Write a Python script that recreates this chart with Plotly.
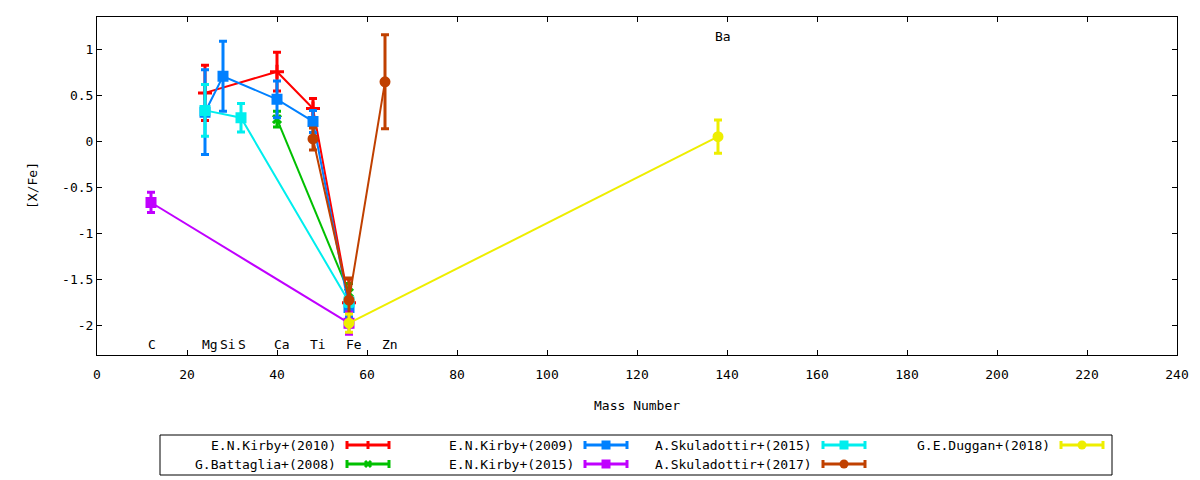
import plotly.graph_objects as go

# mass numbers of the elements
elements = ["C", "Mg", "Si", "S", "Ca", "Ti", "Fe", "Zn", "Ba"]
masses = [12, 24, 28, 32, 40, 48, 56, 64, 138]

# [X/Fe] per study
kirby2010_x = [24, 40, 48, 56]
kirby2010_y = [0.53, 0.76, 0.36, -1.75]
kirby2010_err = [0.30, 0.21, 0.11, 0.26]

battaglia2008_x = [40, 56]
battaglia2008_y = [0.245, -1.64]
battaglia2008_err = [0.085, 0.10]

kirby2009_x = [24, 28, 40, 48, 56]
kirby2009_y = [0.32, 0.71, 0.46, 0.22, -1.80]
kirby2009_err = [0.46, 0.38, 0.20, 0.12, 0.10]

kirby2015_x = [12, 56]
kirby2015_y = [-0.66, -1.97]
kirby2015_err = [0.11, 0.12]

skul2015_x = [24, 32, 56]
skul2015_y = [0.34, 0.26, -1.74]
skul2015_err = [0.28, 0.155, 0.05]

skul2017_x = [48, 56, 64]
skul2017_y = [0.03, -1.72, 0.65]
skul2017_err = [0.12, 0.24, 0.51]

duggan2018_x = [56, 138]
duggan2018_y = [-1.97, 0.055]
duggan2018_err = [0.10, 0.18]

series = [
    ("E.N.Kirby+(2010)", kirby2010_x, kirby2010_y, kirby2010_err, "#ff0000", "plus"),
    ("G.Battaglia+(2008)", battaglia2008_x, battaglia2008_y, battaglia2008_err, "#00c000", "x"),
    ("E.N.Kirby+(2009)", kirby2009_x, kirby2009_y, kirby2009_err, "#0080ff", "square"),
    ("E.N.Kirby+(2015)", kirby2015_x, kirby2015_y, kirby2015_err, "#c000ff", "square"),
    ("A.Skuladottir+(2015)", skul2015_x, skul2015_y, skul2015_err, "#00eeee", "square"),
    ("A.Skuladottir+(2017)", skul2017_x, skul2017_y, skul2017_err, "#c04000", "circle"),
    ("G.E.Duggan+(2018)", duggan2018_x, duggan2018_y, duggan2018_err, "#eeee00", "circle"),
]

FONT = "DejaVu Sans Mono"
L, R, T, B = 97, 1177, 17, 355


def px(x):
    return (x - L) / (R - L)


def py(y):
    return (B - y) / (B - T)


symbols = {
    "plus": dict(symbol="cross-thin", size=10),
    "x": dict(symbol="x-thin", size=8),
    "square": dict(symbol="square", size=8),
    "circle": dict(symbol="circle", size=8),
}

fig = go.Figure()
for name, xs, ys, errs, color, mk in series:
    m = symbols[mk]
    fig.add_trace(go.Scatter(
        x=xs, y=ys, name=name, mode="lines+markers",
        line=dict(color=color, width=2),
        marker=dict(symbol=m["symbol"], size=m["size"], color=color,
                    line=dict(color=color, width=3)),
        error_y=dict(type="data", array=errs, visible=True,
                     color=color, thickness=3, width=4),
        showlegend=False,
    ))

annotations = []
# element labels
for el, m in zip(elements, masses):
    annotations.append(dict(
        x=m - 1.1, y=1.14 if el == "Ba" else -2.20, xref="x", yref="y",
        text=el, showarrow=False, xanchor="left", yanchor="middle",
        font=dict(family=FONT, size=13, color="black"),
    ))

annotations.append(dict(x=px(637), y=py(405), xref="paper", yref="paper",
                        text="Mass Number", showarrow=False, yanchor="middle",
                        font=dict(family=FONT, size=13, color="black")))
annotations.append(dict(x=px(32), y=py(186), xref="paper", yref="paper",
                        text="[X/Fe]", showarrow=False, textangle=-90,
                        xanchor="center", yanchor="middle",
                        font=dict(family=FONT, size=13, color="black")))

# gnuplot-style key: text right-aligned, sample to its right
shapes = [dict(type="rect", xref="paper", yref="paper",
               x0=px(160), x1=px(1112), y0=py(435), y1=py(475),
               line=dict(color="black", width=1))]
row_y = [445, 464]
for i, (name, xs, ys, errs, color, mk) in enumerate(series):
    col, row = divmod(i, 2)
    yc = row_y[row]
    x_text = 338 + 238 * col
    s0, s1 = 347 + 238 * col, 389 + 238 * col
    annotations.append(dict(x=px(x_text), y=py(yc), xref="paper", yref="paper",
                            text=name, showarrow=False, xanchor="right",
                            yanchor="middle",
                            font=dict(family=FONT, size=13, color="black")))
    ln = dict(color=color, width=3)
    shapes.append(dict(type="line", xref="paper", yref="paper",
                       x0=px(s0), x1=px(s1), y0=py(yc), y1=py(yc), line=ln))
    for sx in (s0, s1):
        shapes.append(dict(type="line", xref="paper", yref="paper",
                           x0=px(sx), x1=px(sx), y0=py(yc - 4), y1=py(yc + 4), line=ln))
    xm = (s0 + s1) / 2
    if mk == "plus":
        shapes.append(dict(type="line", xref="paper", yref="paper",
                           x0=px(xm), x1=px(xm), y0=py(yc - 4), y1=py(yc + 4), line=ln))
    elif mk == "x":
        for d in (-1, 1):
            shapes.append(dict(type="line", xref="paper", yref="paper",
                               x0=px(xm - 3), x1=px(xm + 3),
                               y0=py(yc - 3 * d), y1=py(yc + 3 * d), line=ln))
    else:
        shapes.append(dict(type="rect" if mk == "square" else "circle",
                           xref="paper", yref="paper",
                           x0=px(xm - 4.5), x1=px(xm + 4.5),
                           y0=py(yc - 4.5), y1=py(yc + 4.5),
                           fillcolor=color, line=dict(color=color, width=0)))

axis_style = dict(showline=True, linecolor="black", linewidth=1, mirror="ticks",
                  ticks="inside", ticklen=5, tickcolor="black", showgrid=False,
                  zeroline=False, tickfont=dict(family=FONT, size=13, color="black"))

yticks = [1, 0.5, 0, -0.5, -1, -1.5, -2]
yticktext = ["1", "0.5", "0", "-0.5", "-1", "-1.5", "-2"]
xticks = list(range(0, 241, 20))

fig.update_xaxes(range=[0, 240], tickvals=xticks, ticklabelstandoff=7,
                 ticktext=[str(v) for v in xticks], **axis_style)
fig.update_yaxes(range=[-2.316, 1.354], tickvals=yticks, ticktext=yticktext,
                 **axis_style)

fig.update_layout(
    width=1200, height=480,
    margin=dict(l=L, r=1200 - R, t=T, b=480 - B),
    plot_bgcolor="white", paper_bgcolor="white",
    font=dict(family=FONT, size=13, color="black"),
    annotations=annotations, shapes=shapes,
    showlegend=False,
)

fig.write_html("out.html", config={"displayModeBar": False},
               post_script="document.body.style.margin = '0';")
